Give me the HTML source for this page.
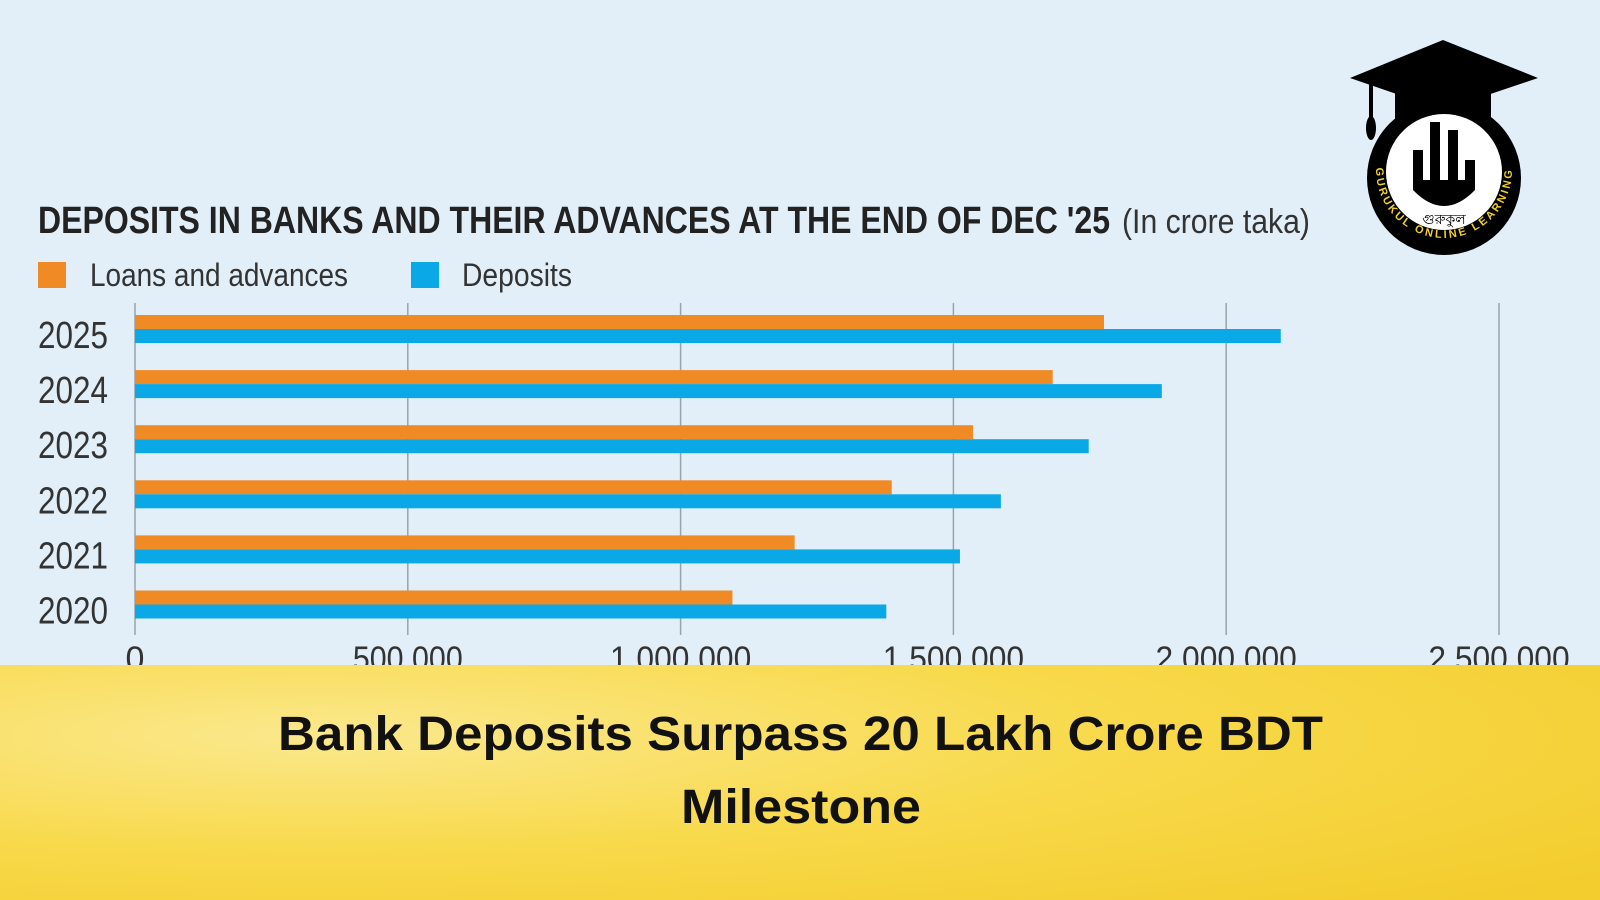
<!DOCTYPE html>
<html><head><meta charset="utf-8"><style>
html,body{margin:0;padding:0}
body{width:1600px;height:900px;overflow:hidden;background:#e2eff9;font-family:"Liberation Sans",sans-serif;position:relative}
</style></head><body>
<svg width="1600" height="900" viewBox="0 0 1600 900" style="position:absolute;left:0;top:0">
<defs>
<radialGradient id="yg" cx="0.2" cy="0.3" r="1">
<stop offset="0" stop-color="#fbe88c"/><stop offset="0.5" stop-color="#f8d94a"/><stop offset="1" stop-color="#f3cd2e"/>
</radialGradient>
<path id="ringpath" d="M1376,170 A68,68 0 0,0 1512,170"/>
</defs>
<text x="38" y="233" font-size="38" font-weight="bold" fill="#222" textLength="1072" lengthAdjust="spacingAndGlyphs">DEPOSITS IN BANKS AND THEIR ADVANCES AT THE END OF DEC '25</text>
<text x="1122" y="233" font-size="34" fill="#333" textLength="188" lengthAdjust="spacingAndGlyphs">(In crore taka)</text>
<rect x="38" y="262" width="28" height="26" fill="#f08a24"/>
<text x="90" y="286" font-size="32" fill="#333" textLength="258" lengthAdjust="spacingAndGlyphs">Loans and advances</text>
<rect x="411" y="262" width="28" height="26" fill="#0aa8e6"/>
<text x="462" y="286" font-size="32" fill="#333" textLength="110" lengthAdjust="spacingAndGlyphs">Deposits</text>
<g id="grid"></g><g id="bars"></g><g id="labels"></g>
<rect x="0" y="665" width="1600" height="235" fill="url(#yg)"/>
<text x="278" y="750" font-size="48" font-weight="bold" fill="#111" textLength="1045" lengthAdjust="spacingAndGlyphs">Bank Deposits Surpass 20 Lakh Crore BDT</text>
<text x="681" y="823" font-size="48" font-weight="bold" fill="#111" textLength="240" lengthAdjust="spacingAndGlyphs">Milestone</text>
<g>
<polygon points="1443,40 1538,78 1443,110 1350,78" fill="#000"/>
<rect x="1395" y="85" width="96" height="40" fill="#000"/>
<rect x="1369" y="80" width="4" height="42" fill="#000"/>
<ellipse cx="1371" cy="128" rx="5" ry="12" fill="#000"/>
<circle cx="1444" cy="178" r="77" fill="#000"/>
<circle cx="1444" cy="172" r="58" fill="#fff"/>
<path d="M1413,150 L1413,190 Q1444,222 1475,190 L1475,160 L1465,160 L1465,180 L1458,180 L1458,130 L1448,130 L1448,180 L1440,180 L1440,122 L1430,122 L1430,180 L1423,180 L1423,150 Z" fill="#000"/>
<text x="1444" y="224" text-anchor="middle" font-size="14" fill="#000">গুরুকুল</text>
<text font-size="11" font-weight="bold" fill="#f2cf2a" letter-spacing="2.5"><textPath href="#ringpath" startOffset="50%" text-anchor="middle">GURUKUL ONLINE LEARNING</textPath></text>
</g>
</svg>
<script>
const years=["2025","2024","2023","2022","2021","2020"];
const loans=[1776000,1682000,1536000,1387000,1209000,1095000];
const deposits=[2100000,1882000,1748000,1587000,1512000,1377000];
const ticks=[0,500000,1000000,1500000,2000000,2500000];
const tickLabels=["0","500,000","1,000,000","1,500,000","2,000,000","2,500,000"];
const NS="http://www.w3.org/2000/svg";
const x0=135,x1=1499,max=2500000;
function xs(v){return x0+(x1-x0)*v/max;}
function rowY(i){return 315+i*55.1;}
function mk(t,a,p){const e=document.createElementNS(NS,t);for(const k in a)e.setAttribute(k,a[k]);p.appendChild(e);return e;}
const grid=document.getElementById('grid'),bars=document.getElementById('bars'),labels=document.getElementById('labels');
ticks.forEach((t,i)=>{
 const l=mk('line',{x1:xs(t),x2:xs(t),y1:303,y2:635,stroke:'#9aa3ab','stroke-width':1.5},grid);
 
 
 const lab=tickLabels[i];
 const attrs={x:xs(t),y:670,'text-anchor':'middle','font-size':34,fill:'#333'};
 if(lab.length>1){attrs.textLength=lab.length*15.7;attrs.lengthAdjust='spacingAndGlyphs';}
 const tx=mk('text',attrs,grid);
 tx.textContent=lab;
 
 
});
years.forEach((y,i)=>{
 const yy=rowY(i);
 const a=mk('rect',{x:x0,y:yy,width:xs(loans[i])-x0,height:14,fill:'#f08a24'},bars);
 
 
 const b=mk('rect',{x:x0,y:yy+14,width:xs(deposits[i])-x0,height:14,fill:'#0aa8e6'},bars);
 
 
 const t=mk('text',{x:38,y:yy+33,'font-size':38,fill:'#333',textLength:70,lengthAdjust:'spacingAndGlyphs'},labels);
 t.textContent=y;
 
 
});
</script>
</body></html>
